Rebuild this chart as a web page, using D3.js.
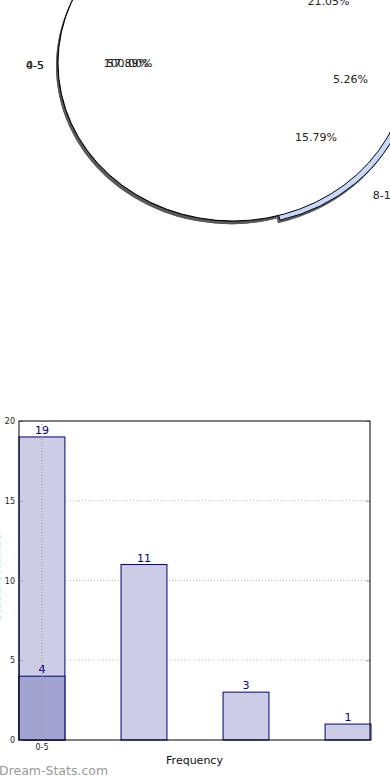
<!DOCTYPE html>
<html>
<head>
<meta charset="utf-8">
<script src="https://cdn.jsdelivr.net/npm/d3@7"></script>
<style>
  body { margin: 0; background: #fff; }
  svg { display: block; font-family: "DejaVu Sans", sans-serif; }
</style>
</head>
<body>
<svg id="chart" width="390" height="780"></svg>
<script>
// pie: overall slice + class slices
var totalLabel = "0-5";
var totalValue = 19;
var pieLabels = ["6-7", "10-11", "8-10", "4-5"];
var pieValues = [4, 1, 3, 11];
var pieColors = ["#9db4e6", "#dfe7f7", "#c6d9fa", "#ffffff"];

// bars
var barLabels = ["0-5", "", "", ""];
var barValues = [4, 11, 3, 1];
var yTicks = [0, 5, 10, 15, 20];

(function () {
var svg = d3.select("#chart");

// ---------- pie ----------
var cx = 233, cy = 63;
var R = 175;
var ky = 158 / 175;
var explodeIdx = 2;

var pieG = svg.append("g")
  .attr("transform", "translate(" + cx + "," + cy + ")");
var scaled = pieG.append("g").attr("transform", "scale(1," + ky + ")");

var a0 = 14.2 * Math.PI / 180;
var pie = d3.pie().sort(null)
  .startAngle(a0)
  .endAngle(a0 + 2 * Math.PI);
var arcs = pie(pieValues);

var totalArc = { startAngle: Math.PI / 2, endAngle: Math.PI / 2 + 2 * Math.PI, value: totalValue };

var arc = d3.arc().innerRadius(0).outerRadius(R);

function offset(d, i) {
  if (i !== explodeIdx) return [0, 0];
  var a = (d.startAngle + d.endAngle) / 2;
  return [Math.sin(a) * 6, -Math.cos(a) * 6];
}

// shadows
scaled.selectAll(".shadow")
  .data(arcs)
  .enter().append("path")
  .attr("d", arc)
  .attr("fill", "#5a5a5a")
  .attr("transform", function (d, i) {
    var o = offset(d, i);
    return "translate(" + (o[0] - 2) + "," + (o[1] + 3.5) + ")";
  });
scaled.append("path")
  .attr("d", arc(totalArc))
  .attr("fill", "#5a5a5a")
  .attr("transform", "translate(-2,3.5)");

// class slices
scaled.selectAll(".slice")
  .data(arcs)
  .enter().append("path")
  .attr("d", arc)
  .attr("fill", function (d, i) { return pieColors[i]; })
  .attr("stroke", "#000")
  .attr("stroke-width", 1)
  .attr("vector-effect", "non-scaling-stroke")
  .attr("transform", function (d, i) {
    var o = offset(d, i);
    return "translate(" + o[0] + "," + o[1] + ")";
  });

// overall slice on top
scaled.append("path")
  .attr("d", arc(totalArc))
  .attr("fill", "#fff")
  .attr("stroke", "#000")
  .attr("stroke-width", 1)
  .attr("vector-effect", "non-scaling-stroke");

var pctArc = d3.arc().innerRadius(112).outerRadius(112);
var catArc = d3.arc().innerRadius(196).outerRadius(196);

function place(a, d) {
  var c = a.centroid(d);
  return [c[0] + 7, c[1] * ky];
}
function anchor(d) {
  var m = (d.startAngle + d.endAngle) / 2 % (2 * Math.PI);
  return m > Math.PI ? "end" : "start";
}

var allArcs = arcs.concat([totalArc]);
var allLabels = pieLabels.concat([totalLabel]);
var sum = d3.sum(pieValues);

pieG.selectAll(".pct")
  .data(allArcs)
  .enter().append("text")
  .attr("x", function (d) { return place(pctArc, d)[0]; })
  .attr("y", function (d) { return place(pctArc, d)[1]; })
  .attr("dy", "0.35em")
  .attr("text-anchor", "middle")
  .style("font-size", "11px")
  .attr("fill", "#222")
  .text(function (d) { return (d.value / sum * 100).toFixed(2) + "%"; });

pieG.selectAll(".cat")
  .data(allArcs)
  .enter().append("text")
  .attr("x", function (d) { return place(catArc, d)[0]; })
  .attr("y", function (d) { return place(catArc, d)[1] + 2; })
  .attr("dy", "0.35em")
  .attr("text-anchor", anchor)
  .style("font-size", "11px")
  .attr("fill", "#222")
  .text(function (d, i) { return allLabels[i]; });

// ---------- bar chart ----------
var plotLeft = 19, plotRight = 370, plotTop = 421, plotBottom = 740;

var x = d3.scaleBand()
  .domain(d3.range(barValues.length))
  .range([plotLeft, plotRight + 1])
  .paddingInner(0.55)
  .paddingOuter(0);

var y = d3.scaleLinear()
  .domain([0, 20])
  .range([plotBottom, plotTop]);

// horizontal grid
svg.append("g")
  .selectAll("line")
  .data(yTicks.slice(1, -1))
  .enter().append("line")
  .attr("x1", plotLeft).attr("x2", plotRight)
  .attr("y1", function (d) { return y(d); })
  .attr("y2", function (d) { return y(d); })
  .attr("stroke", "#bbb")
  .attr("stroke-dasharray", "1,2");

// total bar
svg.append("rect")
  .attr("x", x(0))
  .attr("y", y(totalValue))
  .attr("width", x.bandwidth())
  .attr("height", plotBottom - y(totalValue))
  .attr("fill", "#cccce4")
  .attr("stroke", "#000080");

// frequency bars
svg.selectAll(".bar")
  .data(barValues)
  .enter().append("rect")
  .attr("x", function (d, i) { return x(i); })
  .attr("y", function (d) { return y(d); })
  .attr("width", x.bandwidth())
  .attr("height", function (d) { return plotBottom - y(d); })
  .attr("fill", function (d, i) { return i === 0 ? "#a3a3d0" : "#cccce4"; })
  .attr("stroke", "#000080");

// value labels
svg.append("text")
  .attr("x", x(0) + x.bandwidth() / 2)
  .attr("y", y(totalValue) - 3)
  .attr("text-anchor", "middle")
  .style("font-size", "11px")
  .attr("fill", "#000080")
  .text(totalValue);

svg.selectAll(".val")
  .data(barValues)
  .enter().append("text")
  .attr("x", function (d, i) { return x(i) + x.bandwidth() / 2; })
  .attr("y", function (d) { return y(d) - 3; })
  .attr("text-anchor", "middle")
  .style("font-size", "11px")
  .attr("fill", "#000080")
  .text(function (d) { return d; });

// vertical grid at first tick
svg.append("line")
  .attr("x1", x(0) + x.bandwidth() / 2)
  .attr("x2", x(0) + x.bandwidth() / 2)
  .attr("y1", plotTop).attr("y2", plotBottom)
  .attr("stroke", "#999")
  .attr("stroke-dasharray", "1,2");

// y axis (left + right tick marks)
var yAxis = svg.append("g")
  .attr("transform", "translate(" + plotLeft + ",0)")
  .call(d3.axisLeft(y).tickValues(yTicks).tickSize(-4).tickPadding(4));
yAxis.select(".domain").remove();
yAxis.selectAll("line").attr("stroke", "#999");
yAxis.selectAll("text").style("font-size", "8px").attr("fill", "#222")
  .style("font-family", "DejaVu Sans");

var yAxisR = svg.append("g")
  .attr("transform", "translate(" + plotRight + ",0)")
  .call(d3.axisRight(y).tickValues(yTicks).tickSize(-4).tickFormat(""));
yAxisR.select(".domain").remove();
yAxisR.selectAll("line").attr("stroke", "#999");

// x axis
var xAxis = svg.append("g")
  .attr("transform", "translate(0," + plotBottom + ")")
  .call(d3.axisBottom(x).tickSize(0).tickPadding(4)
    .tickFormat(function (d, i) { return barLabels[i]; }));
xAxis.select(".domain").remove();
xAxis.selectAll("text").style("font-size", "8px").attr("fill", "#222")
  .style("font-family", "DejaVu Sans");

// frame
svg.append("rect")
  .attr("x", plotLeft).attr("y", plotTop)
  .attr("width", plotRight - plotLeft).attr("height", plotBottom - plotTop)
  .attr("fill", "none")
  .attr("stroke", "#000");

svg.append("text")
  .attr("x", (plotLeft + plotRight) / 2)
  .attr("y", 764)
  .attr("text-anchor", "middle")
  .style("font-size", "11px")
  .attr("fill", "#111")
  .text("Frequency");

svg.append("text")
  .attr("transform", "translate(0,575)rotate(-90)")
  .attr("text-anchor", "middle")
  .style("font-size", "11px")
  .attr("fill", "#111")
  .text("Student Number");

svg.append("text")
  .attr("x", -1)
  .attr("y", 775)
  .style("font-size", "12.5px")
  .attr("fill", "#999")
  .text("Dream-Stats.com");
})();
</script>
</body>
</html>
